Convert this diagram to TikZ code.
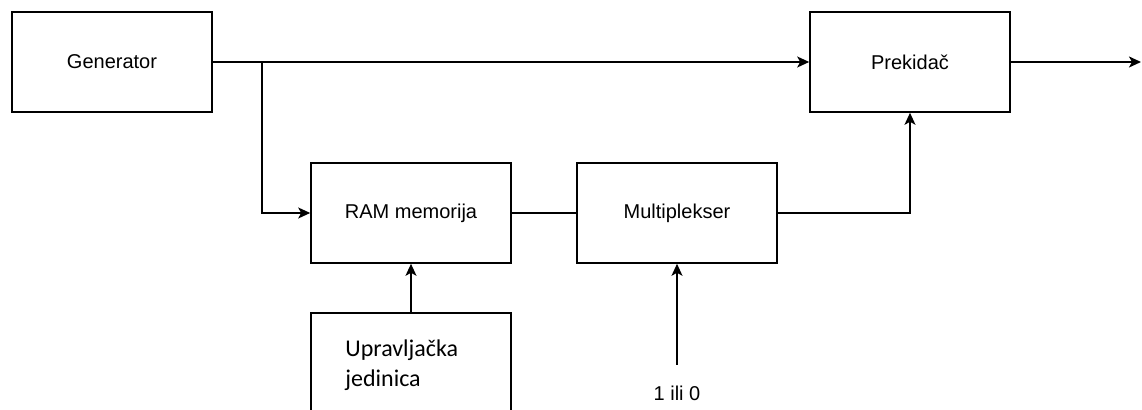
\documentclass[tikz,border=0pt]{standalone}
\usepackage{fontspec}
\setmainfont{Liberation Sans}
\newfontfamily\calibfont{Carlito}
\usetikzlibrary{arrows.meta}

\begin{document}
\begin{tikzpicture}[x=0.5pt, y=-0.5pt,
		blok/.style={draw, line width=0.8pt, minimum width=100pt, minimum height=50pt, font=\fontsize{10}{12}\selectfont},
		veza/.style={line width=0.8pt},
		strelica/.style={veza, -{Stealth[length=6pt, width=5.5pt, inset=1.5pt]}}]
	\clip (0,0) rectangle (1142,410);
	
	\node[blok] (gen) at (112,62) {Generator};
	\node[blok] (prek) at (910,62) {Prekida\v{c}};
	\node[blok] (ram) at (411,213) {RAM memorija};
	\node[blok] (mux) at (677,213) {Multiplekser};
	\node[blok] (upr) at (411,363) {};
	\node[anchor=west, align=left, inner sep=0pt, font=\calibfont\fontsize{12}{15}\selectfont] (uprtxt) at (345,365) {Upravlja\v{c}ka\\jedinica};
	\node[font=\fontsize{10}{12}\selectfont] (bit) at (677,393) {1 ili 0};
	\coordinate (grana) at (262,62);
	\coordinate (izlaz) at (1141,62);
	
	\draw[strelica] (gen.east) -- (prek.west);
	\draw[strelica] (grana) |- (ram.west);
	\draw[veza] (ram.east) -- (mux.west);
	\draw[strelica] (mux.east) -| (prek.south);
	\draw[strelica] (prek.east) -- (izlaz);
	\draw[strelica] (upr.north) -- (ram.south);
	\draw[strelica, shorten <=7pt] (bit.north) -- (mux.south);
\end{tikzpicture}
\end{document}
